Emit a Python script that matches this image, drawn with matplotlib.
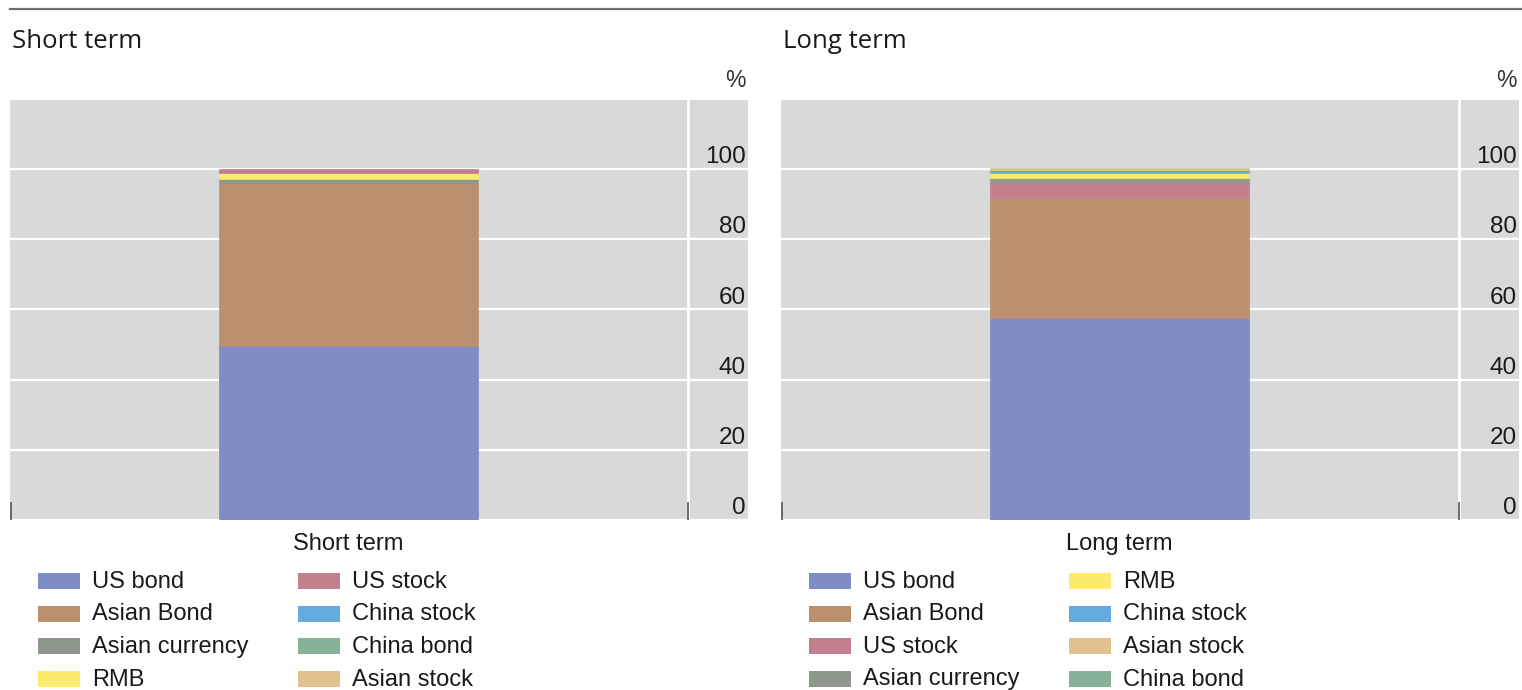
import matplotlib.pyplot as plt
from matplotlib.patches import Rectangle
from matplotlib.lines import Line2D

plt.rcParams['font.family'] = ['Liberation Sans', 'DejaVu Sans']

# short term allocation (%), stacked bottom to top
short_names = ['US bond', 'Asian Bond', 'Asian currency', 'RMB',
               'US stock', 'China stock', 'China bond', 'Asian stock']
short_vals = [49.6, 46.3, 1.1, 1.9, 1.1, 0.0, 0.0, 0.0]

# long term allocation (%), stacked bottom to top
long_names = ['US bond', 'Asian Bond', 'US stock', 'Asian currency',
              'RMB', 'China stock', 'Asian stock', 'China bond']
long_vals = [57.5, 34.1, 4.4, 1.25, 1.6, 0.75, 0.5, 0.0]

yticks = [0, 20, 40, 60, 80, 100]

colors = {
    'US bond': '#7f8cc5',
    'Asian Bond': '#bb906f',
    'Asian currency': '#8d978b',
    'RMB': '#fde96b',
    'US stock': '#c47f8f',
    'China stock': '#66abdf',
    'China bond': '#87b198',
    'Asian stock': '#e3c18f',
}

W, H = 1522, 690
fig = plt.figure(figsize=(W / 100, H / 100), dpi=100)

def fx(px):
    return px / W

def fy(py):
    return 1 - py / H

# top rule
fig.add_artist(Line2D([fx(10), 1], [fy(9), fy(9)], color='#6e6e6e', lw=1.6))

txt = '#1a1a1a'
panels = [
    ('Short term', short_names, short_vals, 10),
    ('Long term', long_names, long_vals, 781),
]

for title, names, vals, x0 in panels:
    ax = fig.add_axes([fx(x0), fy(520), fx(738), 420 / H])
    ax.set_facecolor('#d9d9d9')
    ax.set_xlim(-1.307, 1.542)
    ax.set_ylim(0, 119.6)
    for s in ax.spines.values():
        s.set_visible(False)
    ax.set_xticks([])
    ax.set_yticks([])

    for v in yticks:
        ax.axhline(v, color='white', lw=1.6, zorder=1)
    ax.axvline(1.31, color='white', lw=2, zorder=1)

    bottom = 0
    for n, v in zip(names, vals):
        if v > 0:
            ax.bar(0, v, width=1.0, bottom=bottom, color=colors[n],
                   edgecolor=colors[n], lw=0.5, zorder=3)
        bottom += v

    for v in yticks:
        ax.text(1.533, v + 1.6, str(v), ha='right', va='baseline',
                fontsize=17.5, color=txt)
    ax.annotate('%', xy=(1.533, 119.6), xycoords='data', xytext=(0, 6),
                textcoords='offset points', ha='right', va='bottom',
                fontsize=16.5, color='#333333')

    ax.vlines([-1.302, 1.31], 0, 5, color='#555555', lw=1.2, zorder=4)

    fig.text(fx(x0 + 2), fy(42), title, fontsize=18.5, family='Open Sans',
             va='center', ha='left', color=txt)
    fig.text(fx(x0 + 338), fy(544), title, fontsize=17, va='center',
             ha='center', color=txt)

    # legend, two columns filled top to bottom
    for i, n in enumerate(names):
        col, row = divmod(i, 4)
        px = x0 + 28 + col * 260
        py = 581 + row * 32.5
        fig.add_artist(Rectangle((fx(px), fy(py + 8)), fx(42), 16 / H,
                                 facecolor=colors[n], edgecolor='none'))
        fig.text(fx(px + 54), fy(py + 1), n, fontsize=17, va='center',
                 ha='left', color=txt)

fig.savefig('out.png', dpi=100)
